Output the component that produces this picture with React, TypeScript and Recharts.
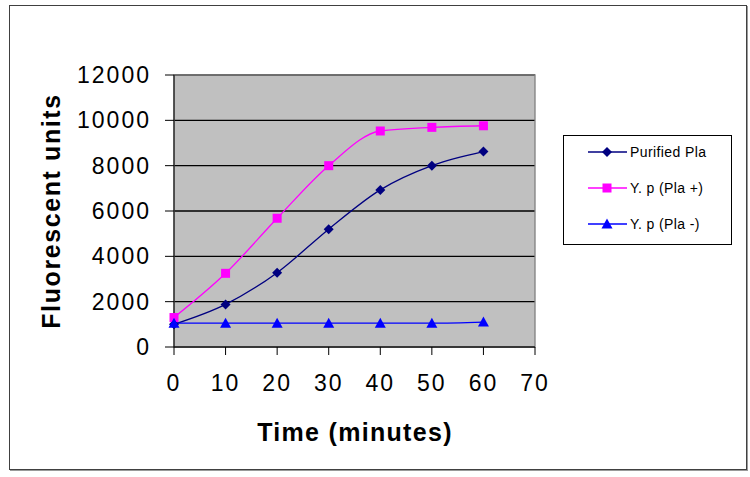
import {
  LineChart,
  Line,
  XAxis,
  YAxis,
  CartesianGrid,
  Legend,
  Label,
  ReferenceArea,
} from "recharts";

const minutes = [0, 10, 20, 30, 40, 50, 60];
const purifiedPla = [1000, 1880, 3280, 5200, 6930, 8000, 8620];
const ypPlaPlus = [1300, 3250, 5680, 8000, 9530, 9690, 9760];
const ypPlaMinus = [1050, 1050, 1050, 1050, 1050, 1050, 1100];
const xTicks = [0, 10, 20, 30, 40, 50, 60, 70];
const yTicks = [0, 2000, 4000, 6000, 8000, 10000, 12000];
const seriesNames = ["Purified Pla", "Y. p (Pla +)", "Y. p (Pla -)"];

const data = minutes.map((m, i) => ({
  minute: m,
  purified: purifiedPla[i],
  plus: ypPlaPlus[i],
  minus: ypPlaMinus[i],
}));

const FONT = '"Liberation Sans", Arial, sans-serif';
const NAVY = "#000080";
const PINK = "#FF00FF";
const BLUE = "#0000FF";

const diamond = (cx: number, cy: number, fill: string, key?: any) => (
  <path
    key={key}
    d={`M${cx} ${cy - 5}L${cx + 5} ${cy}L${cx} ${cy + 5}L${cx - 5} ${cy}Z`}
    fill={fill}
  />
);
const square = (cx: number, cy: number, fill: string, key?: any) => (
  <rect key={key} x={cx - 4.5} y={cy - 4.5} width={9} height={9} fill={fill} />
);
const triangle = (cx: number, cy: number, fill: string, key?: any) => (
  <path
    key={key}
    d={`M${cx} ${cy - 5.5}L${cx + 5.5} ${cy + 4.5}L${cx - 5.5} ${cy + 4.5}Z`}
    fill={fill}
  />
);

const LegendBox = () => {
  const rows = [
    { name: seriesNames[0], color: NAVY, mark: diamond },
    { name: seriesNames[1], color: PINK, mark: square },
    { name: seriesNames[2], color: BLUE, mark: triangle },
  ];
  return (
    <svg width={170} height={111}>
      <rect x={0.5} y={0.5} width={168} height={109} fill="#fff" stroke="#000" />
      {rows.map((r, i) => {
        const y = 17 + i * 36;
        return (
          <g key={r.name}>
            <line x1={25} x2={64} y1={y} y2={y} stroke={r.color} strokeWidth={1.3} />
            {r.mark(44, y, r.color)}
            <text
              x={67}
              y={y}
              dy="0.35em"
              fontFamily={FONT}
              fontSize={14}
              letterSpacing={0.4}
              fill="#000"
            >
              {r.name}
            </text>
          </g>
        );
      })}
    </svg>
  );
};

const tickStyle = {
  fontFamily: FONT,
  fontSize: 23,
  fill: "#000",
  letterSpacing: 2,
};

export default function App() {
  return (
    <div style={{ position: "absolute", left: 0, top: 0, width: 750, height: 477, background: "#fff" }}>
      <div
        style={{
          position: "absolute",
          left: 9,
          top: 5,
          width: 736,
          height: 463,
          border: "1px solid #404040",
          boxShadow: "1px 1px 0 #9a9a9a",
        }}
      />
      <div style={{ position: "absolute", left: 0, top: 0 }}>
        <LineChart
          width={750}
          height={477}
          data={data}
          margin={{ top: 75, right: 215, bottom: 90, left: 64 }}
        >
          <CartesianGrid
            vertical={false}
            stroke="#000"
            strokeWidth={1.3}
            fill="#C0C0C0"
            fillOpacity={1}
          />
          <ReferenceArea x1={0} x2={70} y1={0} y2={12000} fill="none" stroke="#808080" strokeWidth={1.3} />
          <XAxis
            dataKey="minute"
            type="number"
            domain={[0, 70]}
            ticks={xTicks}
            interval={0}
            height={40}
            stroke="#000"
            tickSize={8}
            tickMargin={20}
            tick={tickStyle}
          >
            <Label
              content={() => (
                <text
                  x={355}
                  y={441}
                  textAnchor="middle"
                  fontFamily={FONT}
                  fontWeight="bold"
                  fontSize={25}
                  letterSpacing={1.3}
                  fill="#000"
                >
                  Time (minutes)
                </text>
              )}
            />
          </XAxis>
          <YAxis
            type="number"
            domain={[0, 12000]}
            ticks={yTicks}
            interval={0}
            width={110}
            stroke="#000"
            tickSize={9}
            tickMargin={14}
            tick={tickStyle}
          >
            <Label
              content={() => (
                <text
                  x={60}
                  y={211}
                  transform="rotate(-90 60 211)"
                  textAnchor="middle"
                  fontFamily={FONT}
                  fontWeight="bold"
                  fontSize={25}
                  letterSpacing={1.6}
                  fill="#000"
                >
                  Fluorescent units
                </text>
              )}
            />
          </YAxis>
          <Line
            type="monotone"
            dataKey="purified"
            name={seriesNames[0]}
            stroke={NAVY}
            strokeWidth={1.3}
            isAnimationActive={false}
            dot={(p: any) => diamond(p.cx, p.cy, NAVY, p.index)}
          />
          <Line
            type="monotone"
            dataKey="plus"
            name={seriesNames[1]}
            stroke={PINK}
            strokeWidth={1.3}
            isAnimationActive={false}
            dot={(p: any) => square(p.cx, p.cy, PINK, p.index)}
          />
          <Line
            type="monotone"
            dataKey="minus"
            name={seriesNames[2]}
            stroke={BLUE}
            strokeWidth={1.3}
            isAnimationActive={false}
            dot={(p: any) => triangle(p.cx, p.cy, BLUE, p.index)}
          />
          <Legend
            layout="vertical"
            verticalAlign="middle"
            align="center"
            wrapperStyle={{ left: 563, top: 135, width: 170, height: 111 }}
            content={() => <LegendBox />}
          />
        </LineChart>
      </div>
    </div>
  );
}
